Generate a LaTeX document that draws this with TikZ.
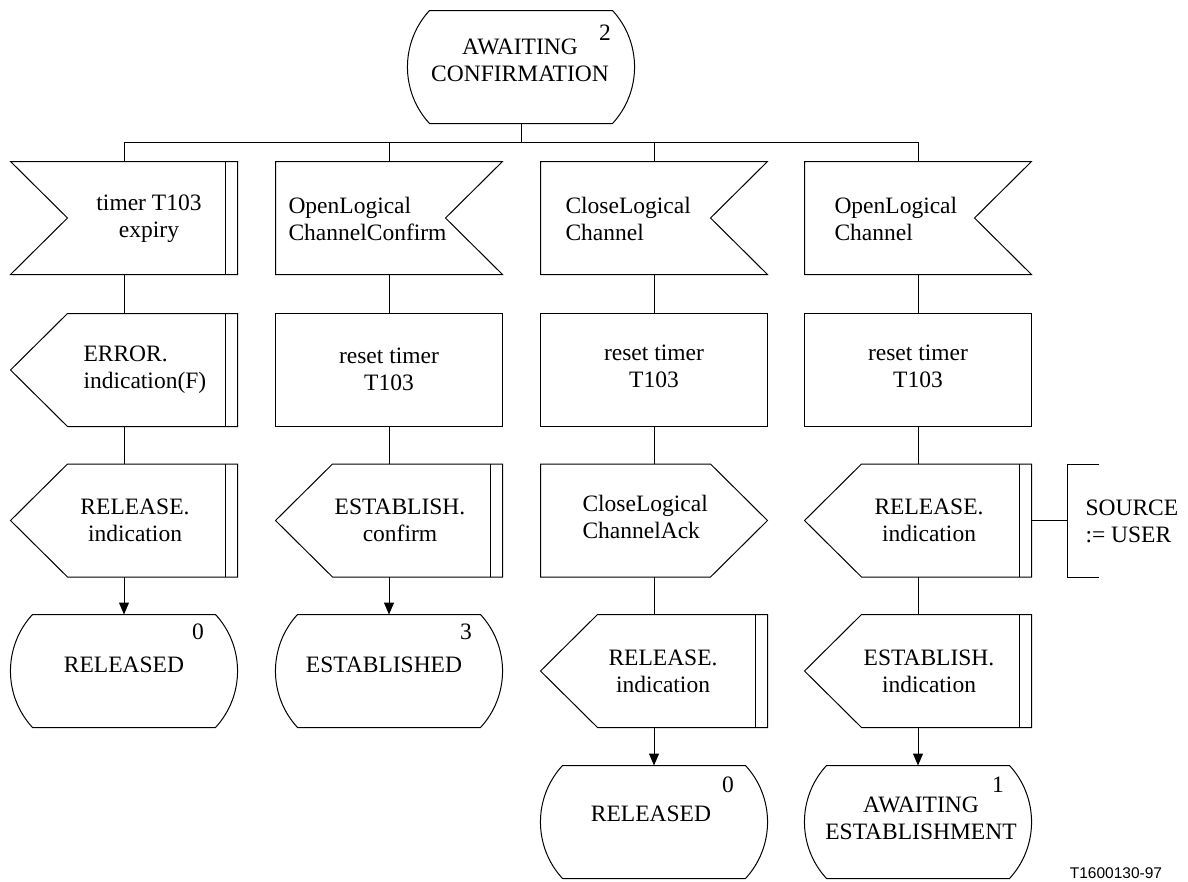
\documentclass[tikz,border=0pt]{standalone}
\usepackage{fontspec}
\setmainfont{Liberation Serif}
\newfontfamily\labelsans{Liberation Sans}
\usetikzlibrary{calc,arrows.meta}
\newcommand{\sdlState}[1]{\draw ($(#1.north west)+(22,0)$) -- ($(#1.north east)+(-22,0)$) .. controls ($(#1.north east)+(7.4,31.9)$) and ($(#1.south east)+(7.4,-31.9)$) .. ($(#1.south east)+(-22,0)$) -- ($(#1.south west)+(22,0)$) .. controls ($(#1.south west)+(-7.4,-31.9)$) and ($(#1.north west)+(-7.4,31.9)$) .. cycle;}
\newcommand{\sdlInL}[1]{\draw (#1.north west) -- (#1.north east) -- (#1.south east) -- (#1.south west) -- ($(#1.west)+(57,0)$) -- cycle; \draw ($(#1.north east)+(-12,0)$) -- ($(#1.south east)+(-12,0)$);}
\newcommand{\sdlInR}[1]{\draw (#1.north west) -- (#1.north east) -- ($(#1.east)+(-57,0)$) -- (#1.south east) -- (#1.south west) -- cycle;}
\newcommand{\sdlOutL}[1]{\draw ($(#1.north west)+(57,0)$) -- (#1.north east) -- (#1.south east) -- ($(#1.south west)+(57,0)$) -- (#1.west) -- cycle; \draw ($(#1.north east)+(-12,0)$) -- ($(#1.south east)+(-12,0)$);}
\newcommand{\sdlOutR}[1]{\draw (#1.north west) -- ($(#1.north east)+(-57,0)$) -- (#1.east) -- ($(#1.south east)+(-57,0)$) -- (#1.south west) -- cycle;}
\begin{document}
\begin{tikzpicture}[x=1pt,y=-1pt,line width=1.0pt,
  shp/.style={inner sep=0pt,outer sep=0pt,minimum width=227pt,minimum height=113pt},
  task/.style={shp,draw},
  txt/.style={inner sep=0pt,align=center,font=\fontsize{23.5}{27}\selectfont},
  txtl/.style={txt,align=left,anchor=west},
  num/.style={inner sep=0pt,font=\fontsize{23.5}{27}\selectfont},
  arr/.style={-{Triangle[length=12pt,width=10pt]}}]
\useasboundingbox (0,0) rectangle (1188,881);
% shape nodes
\node[shp] (s0) at (521,67) {};
\node[shp] (a1) at (124,218) {};
\node[shp] (a2) at (389,218) {};
\node[shp] (a3) at (654,218) {};
\node[shp] (a4) at (918,218) {};
\node[shp] (b1) at (124,370) {};
\node[task] (b2) at (389,370) {};
\node[task] (b3) at (654,370) {};
\node[task] (b4) at (918,370) {};
\node[shp] (c1) at (124,520.5) {};
\node[shp] (c2) at (389,520.5) {};
\node[shp] (c3) at (654,520.5) {};
\node[shp] (c4) at (918,520.5) {};
\node[shp] (d1) at (124,671) {};
\node[shp] (d2) at (389,671) {};
\node[shp] (d3) at (654,671) {};
\node[shp] (d4) at (918,671) {};
\node[shp] (e3) at (654,822) {};
\node[shp] (e4) at (918,822) {};
\node[inner sep=0pt,outer sep=0pt,minimum width=32pt,minimum height=113pt] (ann) at (1083,520.5) {};
% outlines
\sdlState{s0}
\sdlInL{a1}
\sdlInR{a2}
\sdlInR{a3}
\sdlInR{a4}
\sdlOutL{b1}
\sdlOutL{c1}
\sdlOutL{c2}
\sdlOutR{c3}
\sdlOutL{c4}
\sdlState{d1}
\sdlState{d2}
\sdlOutL{d3}
\sdlOutL{d4}
\sdlState{e3}
\sdlState{e4}
\draw (ann.north east) -- (ann.north west) -- (ann.south west) -- (ann.south east);
% connectors
\draw (s0.south) -- ++(0,19) coordinate (bus);
\draw (a1.north) -- (a1.north |- bus) -- (a4.north |- bus) -- (a4.north);
\draw (a2.north) -- (a2.north |- bus);
\draw (a3.north) -- (a3.north |- bus);
\foreach \i in {1,2,3,4} {
  \draw (a\i.south) -- (b\i.north);
  \draw (b\i.south) -- (c\i.north);
}
\draw[arr] (c1.south) -- (d1.north);
\draw[arr] (c2.south) -- (d2.north);
\draw (c3.south) -- (d3.north);
\draw (c4.south) -- (d4.north);
\draw[arr] (d3.south) -- (e3.north);
\draw[arr] (d4.south) -- (e4.north);
\draw (c4.east) -- (ann.west);
% texts
\node[txt] (t0) at (520,60) {AWAITING\\CONFIRMATION};
\node[num] (n0) at (605,33) {2};
\node[txt] (ta1) at (149,219) {timer T103\\expiry};
\node[txtl] (ta2) at (288,219) {OpenLogical\\ChannelConfirm};
\node[txtl] (ta3) at (565,219) {CloseLogical\\Channel};
\node[txtl] (ta4) at (834,219) {OpenLogical\\Channel};
\node[txtl] (tb1) at (83,370) {ERROR.\\indication(F)};
\node[txt] (tb2) at (389,369) {reset timer\\T103};
\node[txt] (tb3) at (654,366) {reset timer\\T103};
\node[txt] (tb4) at (918,366) {reset timer\\T103};
\node[txt] (tc1) at (135,520) {RELEASE.\\indication};
\node[txt] (tc2) at (400,520) {ESTABLISH.\\confirm};
\node[txtl] (tc3) at (582,517) {CloseLogical\\ChannelAck};
\node[txt] (tc4) at (929,520) {RELEASE.\\indication};
\node[txt] (td1) at (124,665) {RELEASED};
\node[num] (nd1) at (198,632) {0};
\node[txt] (td2) at (384,665) {ESTABLISHED};
\node[num] (nd2) at (466,632) {3};
\node[txt] (td3) at (663,671) {RELEASE.\\indication};
\node[txt] (td4) at (929,671) {ESTABLISH.\\indication};
\node[txt] (te3) at (651,814) {RELEASED};
\node[num] (ne3) at (728,785) {0};
\node[txt] (te4) at (921,818) {AWAITING\\ESTABLISHMENT};
\node[num] (ne4) at (998,785) {1};
\node[txtl] (tann) at (1085,521) {SOURCE\\:= USER};
\node[inner sep=0pt,font=\labelsans\fontsize{15.5}{18}\selectfont] (fig) at (1116,873) {T1600130-97};
\end{tikzpicture}
\end{document}
